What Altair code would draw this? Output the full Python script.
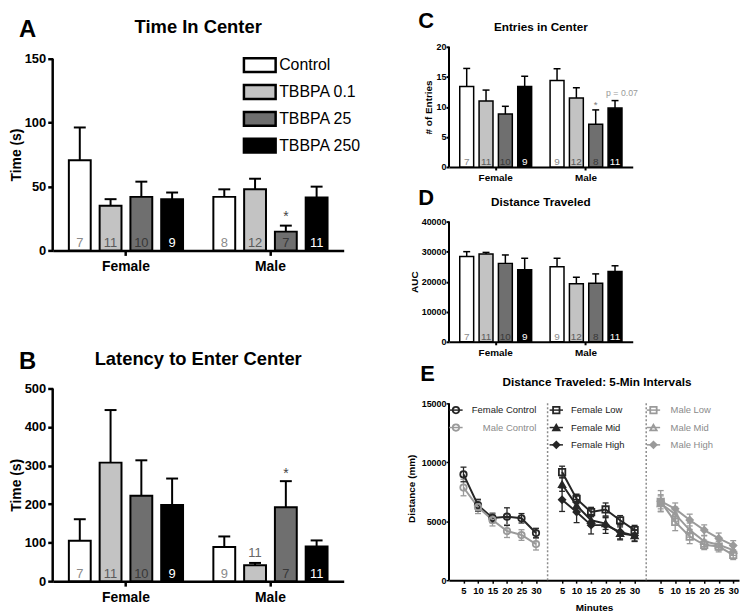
import altair as alt
import pandas as pd

FONT = "Liberation Sans"

# ---------------- data ----------------
groups = ["Control", "TBBPA 0.1", "TBBPA 25", "TBBPA 250"]
sexes = ["Female", "Male"]

# Panel A: Time In Center (s)
a_female_mean = [70.6, 34.9, 41.9, 40.1]
a_female_sem = [25.6, 5.2, 11.9, 5.2]
a_male_mean = [41.9, 47.8, 14.7, 41.4]
a_male_sem = [5.9, 8.3, 4.7, 8.5]
a_female_n = [7, 11, 10, 9]
a_male_n = [8, 12, 7, 11]

# Panel B: Latency to Enter Center (s)
b_female_mean = [104.8, 307.6, 221.6, 197.6]
b_female_sem = [55.9, 136.4, 92.0, 68.7]
b_male_mean = [88.5, 41.2, 191.6, 90.2]
b_male_sem = [27.5, 6.1, 67.9, 15.5]
b_female_n = [7, 11, 10, 9]
b_male_n = [9, 11, 7, 11]

# Panel C: Entries in Center
c_female_mean = [13.4, 11.0, 8.8, 13.4]
c_female_sem = [3.0, 1.8, 1.3, 1.7]
c_male_mean = [14.4, 11.5, 7.1, 9.8]
c_male_sem = [1.95, 1.7, 2.4, 1.25]
c_female_n = [7, 11, 10, 9]
c_male_n = [9, 12, 8, 11]

# Panel D: Distance Traveled (AUC)
d_female_mean = [28400, 29200, 26100, 24000]
d_female_sem = [1600, 550, 2800, 3800]
d_male_mean = [25000, 19300, 19500, 23400]
d_male_sem = [2800, 2200, 3100, 1900]
d_female_n = [7, 11, 10, 9]
d_male_n = [9, 12, 8, 11]

# Panel E: Distance traveled in 5-min intervals (mm)
e_minutes = [5, 10, 15, 20, 25, 30]
e_series = ["Female Control", "Male Control", "Female Low", "Female Mid",
            "Female High", "Male Low", "Male Mid", "Male High"]
e_female_control = [8970, 6360, 5280, 5390, 5250, 4000]
e_female_control_sem = [620, 500, 400, 750, 400, 400]
e_male_control = [7860, 6200, 5100, 4170, 3830, 3060]
e_male_control_sem = [700, 550, 500, 550, 450, 500]
e_female_low = [9170, 6890, 5780, 6000, 5080, 4250]
e_female_low_sem = [500, 400, 400, 550, 400, 400]
e_female_mid = [8140, 6330, 5080, 4800, 3970, 3780]
e_female_mid_sem = [600, 500, 500, 500, 550, 450]
e_female_high = [6830, 5780, 4670, 4670, 4100, 3780]
e_female_high_sem = [1000, 900, 750, 700, 600, 500]
e_male_low = [6650, 4950, 3700, 3000, 2850, 2150]
e_male_low_sem = [600, 750, 600, 400, 450, 400]
e_male_mid = [6500, 5600, 4250, 3300, 3000, 2550]
e_male_mid_sem = [650, 600, 600, 450, 450, 450]
e_male_high = [6700, 6050, 5100, 4250, 3550, 2950]
e_male_high_sem = [900, 500, 500, 450, 450, 400]

e_means = [e_female_control, e_male_control, e_female_low, e_female_mid,
           e_female_high, e_male_low, e_male_mid, e_male_high]
e_sems = [e_female_control_sem, e_male_control_sem, e_female_low_sem, e_female_mid_sem,
          e_female_high_sem, e_male_low_sem, e_male_mid_sem, e_male_high_sem]

# ---------------- styles ----------------
bar_fills = ["#ffffff", "#c3c3c3", "#6f6f6f", "#000000"]
n_colors = ["#8a8a8a", "#5a5a5a", "#383838", "#ffffff"]
DARK = "#262626"
GRAY = "#9a9a9a"
# panel index, colour, shape, fill for each E series
e_styles = [
    (0, DARK, "circle", "transparent"),
    (0, GRAY, "circle", "transparent"),
    (1, DARK, "square", "transparent"),
    (1, DARK, "triangle-up", DARK),
    (1, DARK, "diamond", DARK),
    (2, GRAY, "square", "transparent"),
    (2, GRAY, "triangle-up", "transparent"),
    (2, GRAY, "diamond", GRAY),
]
PANEL_SHIFT = 34


def text_layer(txt, x, y, size, weight="bold", align="left", baseline="alphabetic", color="black"):
    return alt.Chart(alt.Data(values=[{}])).mark_text(
        text=txt, fontSize=size, fontWeight=weight, align=align, baseline=baseline,
        color=color, font=FONT,
    ).encode(x=alt.value(x), y=alt.value(y))


def bar_df(f_mean, f_sem, m_mean, m_sem, f_n, m_n, above=()):
    rows = []
    for sex, means, sems, ns in (("Female", f_mean, f_sem, f_n), ("Male", m_mean, m_sem, m_n)):
        for g, m, s, n, nc in zip(groups, means, sems, ns, n_colors):
            inside = "" if (sex, g) in above else str(n)
            rows.append(dict(sex=sex, group=g, mean=m, upper=m + s, n=str(n), n_in=inside, ncolor=nc))
    return pd.DataFrame(rows)


def bar_panel(df, st, top, yticks, ytitle, letter, title, annotations=(), legend=None):
    W, H, ext = st["w"], st["h"], st.get("ext", 0)
    ymax = top * H / (H - ext)
    X = alt.X("sex:N",
              scale=alt.Scale(domain=sexes, paddingInner=st["pi"], paddingOuter=st["po"]),
              axis=alt.Axis(title=None, labelAngle=0, labelFontSize=st["xlab"], labelFontWeight="bold",
                            labelPadding=st["xpad"], tickSize=st["tick"], tickWidth=st["dw"],
                            domainWidth=st["dw"], labelColor="black", domainColor="black",
                            tickColor="black", labelFont=FONT))
    XO = alt.XOffset("group:N", scale=alt.Scale(domain=groups, paddingInner=st["pi2"], paddingOuter=st["po2"]))
    yscale = alt.Scale(domain=[0, ymax], nice=False, zero=True)
    yaxis = alt.Axis(title=ytitle, values=yticks, format="d", labelFontSize=st["ylab"], labelFontWeight="bold",
                     labelPadding=st["ypad"], tickSize=st["tick"], tickWidth=st["dw"], domain=False,
                     titleFontSize=st["ytitle"], titleFontWeight="bold", titleX=st["titlex"],
                     titleY=ext + (H - ext) / 2, labelOverlap=False, labelBound=False,
                     labelColor="black", titleColor="black", tickColor="black",
                     grid=False, labelFont=FONT, titleFont=FONT)

    def Y(f):
        return alt.Y(f, type="quantitative", scale=yscale, axis=yaxis)

    def Yd(v):
        return alt.Y(datum=v, type="quantitative", scale=yscale, axis=yaxis)

    base = alt.Chart(df)
    fill_kw = dict(scale=alt.Scale(domain=groups, range=bar_fills))
    if legend is not None:
        fill = alt.Fill("group:N", legend=legend, **fill_kw)
    else:
        fill = alt.Fill("group:N", legend=None, **fill_kw)
    bars = base.mark_bar(stroke="black", strokeWidth=st["bw"]).encode(x=X, xOffset=XO, y=Y("mean"), fill=fill)
    errs = base.mark_rule(color="black", strokeWidth=st["ew"]).encode(x=X, xOffset=XO, y=Y("mean"), y2="upper:Q")
    caps = base.mark_tick(color="black", orient="horizontal", size=st["cap"], thickness=st["ew"], opacity=1).encode(
        x=X, xOffset=XO, y=Y("upper"))
    yline = alt.Chart(alt.Data(values=[{}])).mark_rule(color="black", strokeWidth=st["dw"]).encode(
        x=alt.value(0), y=Yd(0), y2=alt.Y2(datum=top))
    nlab = base.mark_text(baseline="alphabetic", dy=st["ndy"], fontSize=st["nfs"], font=FONT).encode(
        x=X, xOffset=XO, y=Yd(0), text="n_in:N", color=alt.Color("ncolor:N", scale=None))
    layers = [bars, errs, caps, yline, nlab]
    for a in annotations:
        layers.append(
            base.transform_filter((alt.datum.sex == a["sex"]) & (alt.datum.group == a["group"]))
            .mark_text(text=a["text"], dy=a["dy"], dx=a.get("dx", 0), fontSize=a["size"], color=a["color"],
                       baseline="alphabetic", font=FONT)
            .encode(x=X, xOffset=XO, y=Y("upper"))
        )
    layers.append(text_layer(letter, st["letter_x"], st["letter_y"], st["letter_fs"], baseline="top"))
    layers.append(text_layer(title, W / 2, st["title_y"], st["title_fs"], align="center"))
    return alt.layer(*layers).properties(width=W, height=H)


big = dict(w=293, h=205, ext=12, pi=0.148, po=0.081, pi2=0.29, po2=0.145, xlab=14, xpad=4, tick=5, dw=2.5,
           ylab=13, ypad=2, ytitle=14, titlex=-29, bw=2, ew=2, cap=12, nfs=13, ndy=-3,
           letter_x=-34, letter_y=-28.8, letter_fs=24, title_y=-14, title_fs=18.5)
small = dict(w=185, h=121, pi=0.14, po=0.087, pi2=0.28, po2=0.15, xlab=10, xpad=3, tick=3, dw=2,
             ylab=9, ypad=0, ytitle=10, titlex=-16, bw=1.5, ew=1.5, cap=7, nfs=10, ndy=-2,
             letter_x=-31, letter_y=-36, letter_fs=22, title_y=-16, title_fs=11.8)

dfA = bar_df(a_female_mean, a_female_sem, a_male_mean, a_male_sem, a_female_n, a_male_n)
dfB = bar_df(b_female_mean, b_female_sem, b_male_mean, b_male_sem, b_female_n, b_male_n,
             above=(("Male", "TBBPA 0.1"),))
dfC = bar_df(c_female_mean, c_female_sem, c_male_mean, c_male_sem, c_female_n, c_male_n)
dfD = bar_df(d_female_mean, d_female_sem, d_male_mean, d_male_sem, d_female_n, d_male_n)

legendA = alt.Legend(title=None, orient="none", legendX=195, legendY=5,
                     symbolType="M-1.33,-0.58L1.33,-0.58L1.33,0.58L-1.33,0.58Z", symbolSize=576,
                     symbolStrokeColor="black", symbolStrokeWidth=2.5, symbolOpacity=1,
                     labelFontSize=16, labelFont=FONT, labelColor="black", rowPadding=1,
                     labelOffset=6, padding=0)

chartA = bar_panel(dfA, big, 150, [0, 50, 100, 150], "Time (s)", "A", "Time In Center",
                   annotations=[dict(sex="Male", group="TBBPA 25", text="*", dy=-5, size=14, color="#444444")],
                   legend=legendA)
stB = dict(big, h=194, ext=0, title_y=-24, letter_y=-39.1)
chartB = bar_panel(dfB, stB, 500, [0, 100, 200, 300, 400, 500], "Time (s)", "B", "Latency to Enter Center",
                   annotations=[dict(sex="Male", group="TBBPA 25", text="*", dy=-3, size=14, color="#444444"),
                                dict(sex="Male", group="TBBPA 0.1", text="11", dy=-6, size=13, color="#666666")])
chartC = bar_panel(dfC, small, 20, [0, 5, 10, 15, 20], "# of Entries", "C", "Entries in Center",
                   annotations=[dict(sex="Male", group="TBBPA 25", text="*", dy=-2, size=10, color="#777777"),
                                dict(sex="Male", group="TBBPA 250", text="p = 0.07", dy=-5, dx=7, size=8.8,
                                     color="#999999")])
stD = dict(small, titlex=-30, letter_y=-33.6, title_y=-16)
chartD = bar_panel(dfD, stD, 40000, [0, 10000, 20000, 30000, 40000], "AUC", "D", "Distance Traveled")

# ---------------- panel E ----------------
E_W, E_H = 292, 185
E_TOP = 15000
E_YMAX = E_TOP * E_H / 178.0


def e_panel():
    rows = []
    for name, (panel, color, shape, fill), means, sems in zip(e_series, e_styles, e_means, e_sems):
        for m, v, s in zip(e_minutes, means, sems):
            rows.append(dict(series=name, panel=panel, minute=m, mean=v, lo=v - s, hi=v + s,
                             color=color, shape=shape, fill=fill))
    df = pd.DataFrame(rows)

    xscale = alt.Scale(domain=[0, 100], nice=False, zero=False)
    xaxis = alt.Axis(values=[m + PANEL_SHIFT * p for p in range(3) for m in e_minutes],
                     labelExpr=f"'' + (datum.value % {PANEL_SHIFT})", title="Minutes", titleFontSize=10,
                     titleFontWeight="bold", titlePadding=8, labelFontSize=9.5, labelFontWeight="bold",
                     tickSize=3, tickWidth=1.5, domainWidth=2, labelPadding=2, grid=False, labelOverlap=False,
                     labelColor="black", titleColor="black", domainColor="black", tickColor="black",
                     labelFont=FONT, titleFont=FONT)
    yscale = alt.Scale(domain=[0, E_YMAX], nice=False, zero=True)
    yaxis = alt.Axis(values=[0, 5000, 10000, 15000], format="d", domain=False, title="Distance (mm)",
                     titleX=-33, titleFontSize=10, titleFontWeight="bold", labelFontSize=9,
                     labelFontWeight="bold", tickSize=3, tickWidth=1.5, labelPadding=0, grid=False,
                     labelOverlap=False,
                     labelColor="black", titleColor="black", tickColor="black", labelFont=FONT, titleFont=FONT)

    def X(f):
        return alt.X(f, type="quantitative", scale=xscale, axis=xaxis)

    def Y(f):
        return alt.Y(f, type="quantitative", scale=yscale, axis=yaxis)

    def Yd(v):
        return alt.Y(datum=v, type="quantitative", scale=yscale, axis=yaxis)

    base = alt.Chart(df).transform_calculate(pos=f"datum.minute + {PANEL_SHIFT} * datum.panel")

    seps = alt.Chart(pd.DataFrame({"pos": [PANEL_SHIFT, 2 * PANEL_SHIFT]})).mark_rule(
        color="#8c8c8c", strokeWidth=1.5, strokeDash=[2, 2]).encode(
        x=X("pos"), y=Yd(0), y2=alt.Y2(datum=E_TOP))
    yline = alt.Chart(alt.Data(values=[{}])).mark_rule(color="black", strokeWidth=2).encode(
        x=alt.value(0), y=Yd(0), y2=alt.Y2(datum=E_TOP))
    col = alt.Color("color:N", scale=None)
    errs = base.mark_rule(strokeWidth=1.3).encode(x=X("pos"), y=Y("lo"), y2="hi:Q", color=col)
    cap_hi = base.mark_tick(orient="horizontal", size=6, thickness=1.3, opacity=1).encode(
        x=X("pos"), y=Y("hi"), color=col)
    cap_lo = base.mark_tick(orient="horizontal", size=6, thickness=1.3, opacity=1).encode(
        x=X("pos"), y=Y("lo"), color=col)
    lines = base.mark_line(strokeWidth=2).encode(x=X("pos"), y=Y("mean"), detail="series:N", color=col,
                                                 order="minute:Q")
    pts = base.mark_point(size=42, strokeWidth=1.8, opacity=1, filled=False).encode(
        x=X("pos"), y=Y("mean"), shape=alt.Shape("shape:N", scale=None),
        stroke=alt.Stroke("color:N", scale=None), fill=alt.Fill("fill:N", scale=None))

    # legend rows, three groups
    row_y = [14430, 12950, 11480]
    sym_off = [2.4, 3.0, 2.5]
    txt_off = [30.1, 8.1, 8.4]
    counters = [0, 0, 0]
    lrows = []
    for name, (panel, color, shape, fill) in zip(e_series, e_styles):
        r = counters[panel]
        counters[panel] += 1
        sx = PANEL_SHIFT * panel + sym_off[panel]
        tcol = "#222222" if color == DARK else "#8a8a8a"
        lrows.append(dict(name=name, panel=panel, lx=sx, lx0=sx - 2.3, lx1=sx + 2.3,
                          tx=PANEL_SHIFT * panel + txt_off[panel], ly=row_y[r], color=color,
                          shape=shape, fill=fill, tcol=tcol))
    ldf = pd.DataFrame(lrows)
    lbase = alt.Chart(ldf)
    lrule = lbase.mark_rule(strokeWidth=1.5).encode(x=X("lx0"), x2="lx1:Q", y=Y("ly"), color=col)
    lpts = lbase.mark_point(size=42, strokeWidth=1.8, opacity=1, filled=False).encode(
        x=X("lx"), y=Y("ly"), shape=alt.Shape("shape:N", scale=None),
        stroke=alt.Stroke("color:N", scale=None), fill=alt.Fill("fill:N", scale=None))
    ltxt_r = lbase.transform_filter(alt.datum.panel == 0).mark_text(
        align="right", baseline="middle", fontSize=9.5, font=FONT).encode(
        x=X("tx"), y=Y("ly"), text="name:N", color=alt.Color("tcol:N", scale=None))
    ltxt_l = lbase.transform_filter(alt.datum.panel > 0).mark_text(
        align="left", baseline="middle", fontSize=9.5, font=FONT).encode(
        x=X("tx"), y=Y("ly"), text="name:N", color=alt.Color("tcol:N", scale=None))

    letter = text_layer("E", -29, -32.6, 22, baseline="top")
    title = text_layer("Distance Traveled: 5-Min Intervals", E_W / 2 + 3, -10, 11.8, align="center")
    return alt.layer(seps, yline, errs, cap_hi, cap_lo, lines, pts, lrule, lpts, ltxt_r, ltxt_l,
                     letter, title).properties(width=E_W, height=E_H)


chartE = e_panel()

left = alt.vconcat(chartA, chartB, spacing=139, bounds="flush").resolve_scale(
    fill="independent", xOffset="independent")
right = alt.vconcat(chartC, chartD, chartE, spacing=55, bounds="flush").resolve_scale(
    fill="independent", xOffset="independent")

chart = alt.hconcat(left, right, spacing=45,
                    padding={"left": 2, "top": 0, "right": 0, "bottom": 0}).resolve_scale(
    fill="independent", xOffset="independent").configure(
    font=FONT).configure_view(stroke=None).configure_axis(grid=False)

chart.save("out.html", embed_options={"renderer": "svg", "actions": False})
